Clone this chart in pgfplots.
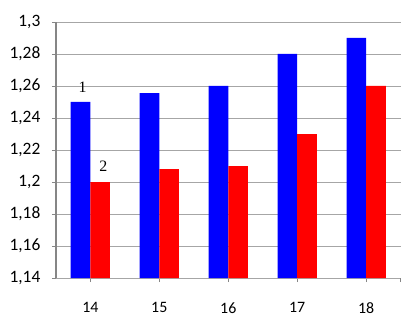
\documentclass[border=0pt]{standalone}
\usepackage{pgfplots}
\pgfplotsset{compat=1.18}
\usepackage{fontspec}
\setmainfont{Carlito}
\newfontfamily\serif{Liberation Serif}
\newcommand\ylabfont{\fontsize{17.5}{19}\selectfont}
\newcommand\xlabfont{\fontsize{16}{18}\selectfont}
\newcommand\numfont{\serif\fontsize{16}{18}\selectfont}
\definecolor{gridgray}{HTML}{A6A6A6}
\definecolor{axgray}{HTML}{868686}
\begin{document}
\begin{tikzpicture}
\begin{axis}[
  scale only axis,
  width=346bp, height=257bp,
  xmin=13.5, xmax=18.5,
  ymin=1.14, ymax=1.3,
  xtick={14,15,16,17,18},
  extra x ticks={18.5},
  extra x tick labels={},
  ytick={1.14,1.16,...,1.31},
  axis x line*=bottom, axis y line*=left,
  x axis line style={draw=gridgray, line width=0.8pt, -},
  y axis line style={draw=axgray, line width=1.8pt, -},
  ymajorgrids,
  grid style={gridgray, line width=0.8pt},
  tick align=outside,
  major tick length=4bp,
  tick style={axgray, line width=0.8pt},
  yticklabels={1{,}14,1{,}16,1{,}18,1{,}2,1{,}22,1{,}24,1{,}26,1{,}28,1{,}3},
  xticklabels={14,15,16,17,18},
  y tick label style={font=\ylabfont, xshift=-8bp},
  x tick label style={font=\xlabfont, yshift=-17bp},
  ybar, bar width=0.285,
  every axis plot/.append style={draw=none},
]
\addplot[fill={rgb,255:red,0;green,0;blue,255}, bar shift=-0.1425] coordinates {(14,1.25) (15,1.2555) (16,1.26) (17,1.28) (18,1.29)};
\addplot[fill={rgb,255:red,255;green,0;blue,0}, bar shift=0.1425] coordinates {(14,1.2) (15,1.208) (16,1.21) (17,1.23) (18,1.26)};
\node[font=\numfont] at (axis cs:13.89,1.2591) {1};
\node[font=\numfont] at (axis cs:14.19,1.2099) {2};
\end{axis}
\useasboundingbox ([shift={(-56bp,-42bp)}]current axis.south west) rectangle ([shift={(2bp,22bp)}]current axis.north east);
\end{tikzpicture}
\end{document}
